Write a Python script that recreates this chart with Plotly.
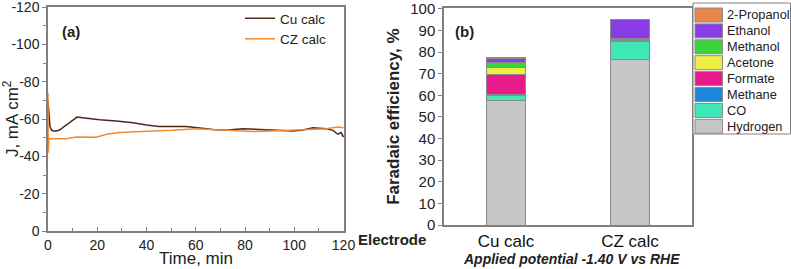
import plotly.graph_objects as go

# ---- Panel (a) data: current density vs time ----
cu_t = [0, 0.3, 0.8, 1.5, 2.7, 4.5, 6, 8, 10, 11.8, 14, 17, 21, 27.7, 34.5, 40, 45, 50, 56,
        61.6, 67, 72, 79, 86, 95, 99.5, 103, 107.6, 113, 115.7, 117.7, 119, 120]
cu_j = [-70, -62, -56, -54, -53.5, -54, -55.5, -57.5, -59.5, -61.1, -60.8, -60.2, -59.7, -59,
        -58.1, -56.9, -56.1, -56, -56, -55.3, -54.4, -54, -54.9, -54.4, -54, -53.6, -54, -55.4,
        -54.9, -54, -51.9, -52.8, -50.4]

cz_t = [0, 0.1, 0.4, 3, 7.4, 11.5, 19.6, 23.7, 29, 40, 50.7, 60, 68, 75, 83, 91, 99.5,
        107.6, 113, 117.7, 120]
cz_j = [-74, -42, -49.5, -49.5, -49.5, -50.4, -50.3, -51.9, -52.8, -53.5, -54, -54.9, -54.4,
        -53.6, -53.3, -53.6, -54, -54.7, -54.9, -55.8, -55.4]

j_ticks = [0, -20, -40, -60, -80, -100, -120]
j_ticklabels = ["0", "-20", "-40", "-60", "-80", "-100", "-120"]
t_ticks = [0, 20, 40, 60, 80, 100, 120]

# ---- Panel (b) data: Faradaic efficiency ----
electrodes = ["Cu calc", "CZ calc"]
products = ["Hydrogen", "CO", "Methane", "Formate", "Acetone", "Methanol", "Ethanol", "2-Propanol"]
fe_values = {
    "Hydrogen":   [57.8, 76.8],
    "CO":         [2.3, 8.1],
    "Methane":    [0.3, 0.3],
    "Formate":    [9.2, 0.8],
    "Acetone":    [3.2, 0.2],
    "Methanol":   [2.2, 0.3],
    "Ethanol":    [2.1, 8.5],
    "2-Propanol": [0.4, 0.3],
}
fe_ticks = [0, 10, 20, 30, 40, 50, 60, 70, 80, 90, 100]
colors = {
    "Hydrogen": "#c6c6c6",
    "CO": "#3fe8b6",
    "Methane": "#1e86dc",
    "Formate": "#e8198a",
    "Acetone": "#eeee44",
    "Methanol": "#3cd43c",
    "Ethanol": "#8a3ce6",
    "2-Propanol": "#e8864c",
}

FONT = "Arial, 'Liberation Sans', sans-serif"
AX = "#808080"
W, H = 791, 269

fig = go.Figure()
fig.add_trace(go.Scatter(x=cu_t, y=cu_j, mode="lines", name="Cu calc",
                         line=dict(color="#4b2a1e", width=1.5), xaxis="x", yaxis="y"))
fig.add_trace(go.Scatter(x=cz_t, y=cz_j, mode="lines", name="CZ calc",
                         line=dict(color="#f5892f", width=1.5), xaxis="x", yaxis="y"))

for p in products:
    fig.add_trace(go.Bar(x=electrodes, y=fe_values[p], name=p, width=0.31,
                         marker=dict(color=colors[p], line=dict(color="#8a8a8a", width=1)),
                         xaxis="x2", yaxis="y2", showlegend=False))

# legend box for the product colours (drawn as decoration, product order top -> bottom)
shapes = [dict(type="rect", xref="paper", yref="paper", x0=693/W, x1=790.5/W,
               y0=1-134/H, y1=1-3/H, line=dict(color=AX, width=1), fillcolor="white",
               layer="above")]
annotations = []
for i, p in enumerate(reversed(products)):
    cy = 15 + i * 15.9
    shapes.append(dict(type="rect", xref="paper", yref="paper", x0=695/W, x1=722.5/W,
                       y0=1-(cy+7)/H, y1=1-(cy-7)/H, fillcolor=colors[p],
                       line=dict(color="#8a8a8a", width=1), layer="above"))
    annotations.append(dict(text=p, x=726/W, y=1-cy/H, xref="paper", yref="paper",
                            xanchor="left", yanchor="middle", showarrow=False,
                            borderpad=0, font=dict(size=12.8, color="#222")))

annotations += [
    dict(text="<b>(a)</b>", x=60/W, y=1-31/H, xref="paper", yref="paper",
         xanchor="left", yanchor="middle", showarrow=False, font=dict(size=15)),
    dict(text="<b>(b)</b>", x=453/W, y=1-32/H, xref="paper", yref="paper",
         xanchor="left", yanchor="middle", showarrow=False, font=dict(size=15)),
    dict(text="<b>Electrode</b>", x=428/W, y=1-239/H, xref="paper", yref="paper",
         xanchor="right", yanchor="middle", showarrow=False, font=dict(size=15)),
    dict(text="<b><i>Applied potential -1.40 V vs RHE</i></b>", x=571/W, y=1-259/H,
         xref="paper", yref="paper", xanchor="center", yanchor="middle",
         showarrow=False, font=dict(size=14)),
    dict(text="Time, min", x=196/W, y=1-258/H, xref="paper", yref="paper",
         xanchor="center", yanchor="middle", showarrow=False, font=dict(size=17)),
]

fig.update_layout(
    width=W, height=H,
    margin=dict(l=0, r=0, t=0, b=0),
    paper_bgcolor="white", plot_bgcolor="white",
    font=dict(family=FONT, size=14, color="#222"),
    barmode="stack",
    xaxis=dict(domain=[48/W, 344/W], range=[0, 120.2], tickvals=t_ticks, automargin=False,
               showline=True, linecolor=AX, linewidth=1.5, mirror=True,
               ticks="inside", ticklen=4, tickcolor=AX, ticklabeloverflow="allow",
               minor=dict(ticks="inside", ticklen=3, tickcolor=AX, dtick=10),
               showgrid=False, zeroline=False, tickfont=dict(size=14)),
    yaxis=dict(domain=[1-231/H, 1-6.7/H], range=[0, -120.3], automargin=False,
               tickvals=j_ticks, ticktext=j_ticklabels, ticklabeloverflow="allow",
               showline=True, linecolor=AX, linewidth=1.5, mirror=True,
               ticks="outside", ticklen=4, tickcolor=AX,
               minor=dict(ticks="outside", ticklen=3, tickcolor=AX, dtick=10),
               showgrid=False, zeroline=False, tickfont=dict(size=14),
               title=dict(text="J, mA cm<sup>2</sup>", font=dict(size=17), standoff=2)),
    xaxis2=dict(domain=[444/W, 692/W], type="category", range=[-0.5, 1.5], automargin=False,
                showline=True, linecolor=AX, linewidth=1.5, mirror=True, ticks="",
                showgrid=False, zeroline=False, tickfont=dict(size=17, color="#111"),
                anchor="y2"),
    yaxis2=dict(domain=[1-225/H, 1-8.3/H], range=[0, 100.3], automargin=False,
                tickvals=fe_ticks, ticktext=[str(v) for v in fe_ticks],
                ticklabeloverflow="allow",
                showline=True, linecolor=AX, linewidth=1.5, mirror=True,
                ticks="outside", ticklen=4, tickcolor=AX,
                showgrid=False, zeroline=False, tickfont=dict(size=15), anchor="x2",
                title=dict(text="<b>Faradaic efficiency, %</b>", font=dict(size=17), standoff=6)),
    showlegend=True,
    legend=dict(x=240/W, y=1-3/H, xanchor="left", yanchor="top", traceorder="normal",
                bgcolor="rgba(0,0,0,0)", borderwidth=0, font=dict(size=13.5),
                tracegroupgap=0),
    shapes=shapes,
    annotations=annotations,
)

fig.write_html("out.html", config={"displayModeBar": False},
               post_script="document.body.style.margin='0';")
